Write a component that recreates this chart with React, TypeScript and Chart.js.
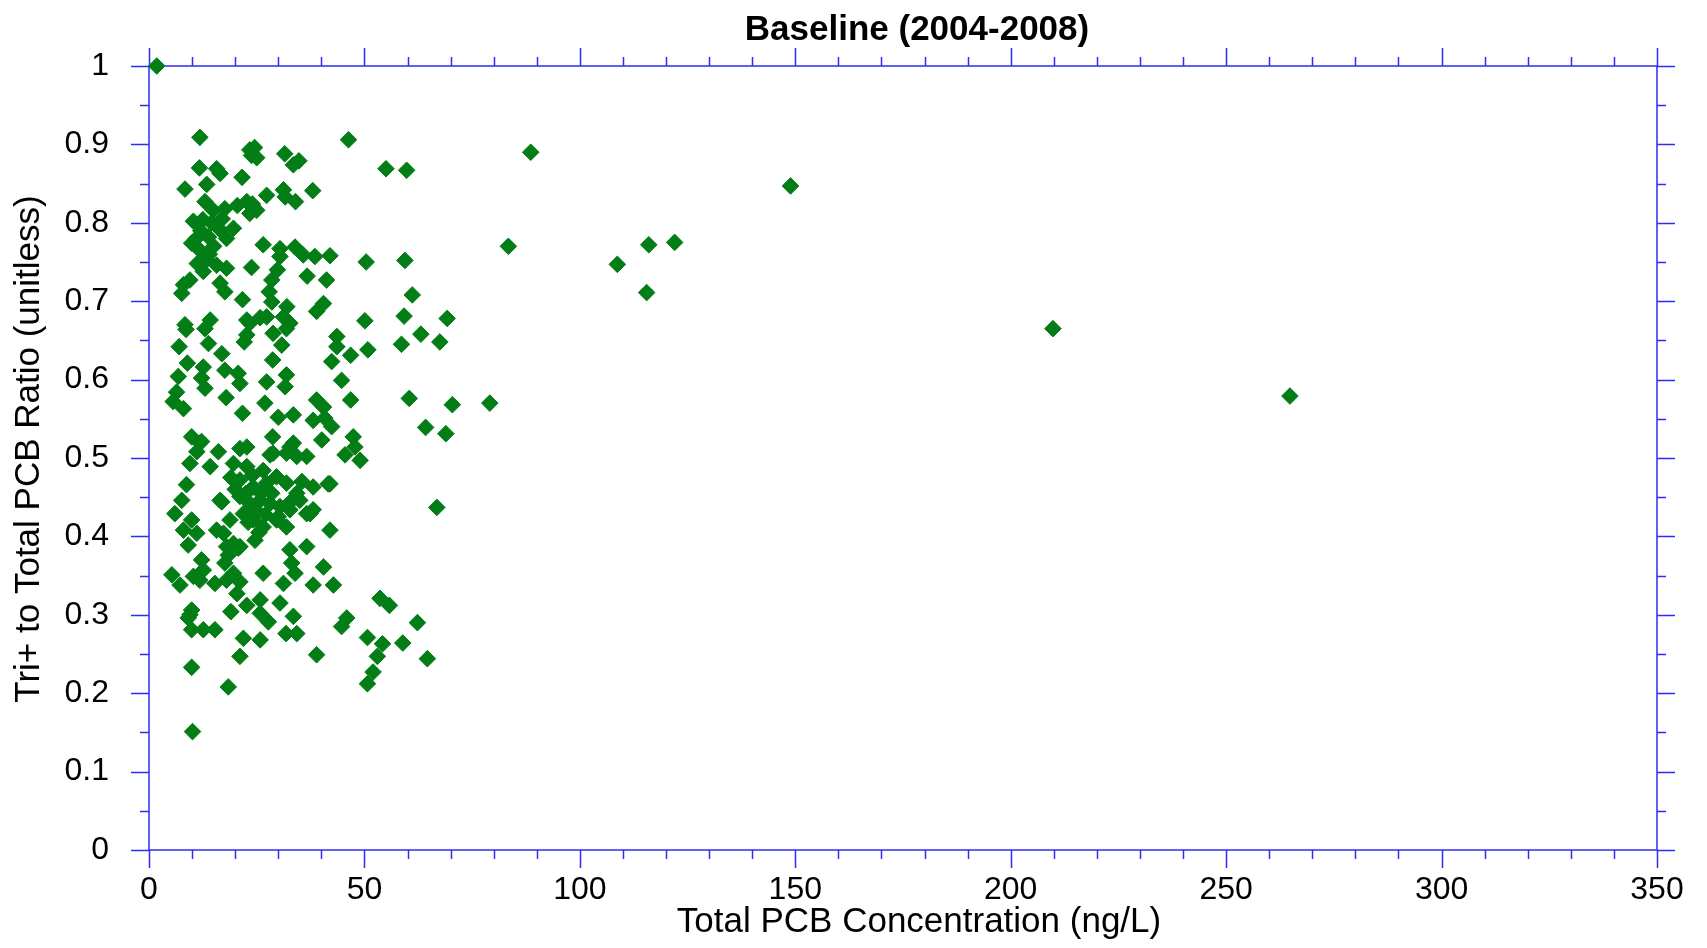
import React, { useEffect, useRef } from "react";
import { Chart, registerables } from "chart.js";

Chart.register(...registerables);

const TITLE = "Baseline (2004-2008)";
const X_TITLE = "Total PCB Concentration (ng/L)";
const Y_TITLE = "Tri+ to Total PCB Ratio (unitless)";

const X_MIN = 0;
const X_MAX = 350;
const X_MAJOR = 50;
const X_MINOR = 10;
const Y_MIN = 0;
const Y_MAX = 1;
const Y_MAJOR = 0.1;
const Y_MINOR = 0.05;

// Total PCB concentration (ng/L) for each sample
const concentration = [
  1.8, 11.8, 46.3, 88.6, 148.9, 83.4, 108.7, 116.0, 122.0, 115.5,
  209.8, 264.8, 55.0, 59.8, 50.4, 59.4, 61.1, 50.1, 59.2, 69.2,
  63.1, 67.5, 58.6, 50.8, 46.8, 46.8, 60.4, 70.4, 79.1, 64.2,
  68.9, 47.4, 45.5, 49.0, 47.8, 66.8, 53.6, 55.8, 45.9, 44.7,
  62.3, 50.7, 54.2, 58.9, 53.0, 64.6, 52.0, 50.7,
  23.8, 23.4, 25.0, 24.5, 31.5, 34.8, 33.5, 11.7, 15.7, 16.5,
  21.6, 8.35, 13.4, 27.3, 31.2, 31.6, 34.0, 38.0, 13.0, 14.9,
  17.6, 22.7, 25.0, 23.4, 10.3, 12.5, 19.6, 16.5, 13.8, 9.9,
  18.0, 26.5, 11.8, 13.4, 12.6, 18.0, 15.7, 23.8, 30.4, 30.4,
  29.8, 33.9, 35.8, 38.5, 42.0, 36.7, 41.2, 8.0, 7.6, 9.5,
  16.5, 17.6, 21.7, 28.5, 27.9, 28.5, 32.0, 40.5, 38.9, 8.35,
  14.2, 22.7, 25.8, 27.3, 31.2, 32.7,
  14.5, 12.0, 15.0, 14.0, 11.0, 17.0, 20.5, 24.0, 11.2,
  8.6, 13.0, 7.0, 13.8, 16.9, 22.1, 22.7, 23.4, 28.8, 30.8,
  31.9, 28.7, 8.9, 12.6, 12.2, 13.0, 6.8, 17.6, 20.7, 21.1,
  27.3, 31.9, 31.6, 6.4, 5.6, 8.0, 17.9, 26.9, 21.7, 30.0,
  33.5, 38.9, 40.5, 40.8, 42.4, 38.1, 43.6, 42.4, 44.7, 43.6,
  40.1, 9.9, 11.8, 9.5, 11.1, 16.1, 14.2, 22.7, 28.7, 28.1,
  33.5, 34.3, 31.9, 36.6, 38.1, 42.0, 8.7, 7.6, 6.0, 9.9,
  8.0, 11.1, 16.9, 15.7, 36.6, 38.1, 42.0,
  12.2, 21.1, 19.6, 22.7, 21.1, 24.2, 27.3, 28.8, 32.7, 29.6,
  31.9, 34.3, 35.0, 41.6, 37.4, 16.5, 21.1, 23.4, 25.8, 28.1,
  30.4, 32.7, 18.8, 21.9, 24.2, 26.5, 29.6, 31.9, 24.6, 21.1,
  17.3, 18.0, 32.7, 36.6, 40.5, 19.6, 18.0, 42.8, 9.5,
  20.0, 22.5, 25.0, 27.0, 23.0, 26.0, 28.5, 30.0, 24.0, 26.5,
  19.0, 33.0, 35.5, 25.5,
  9.1, 12.2, 12.6, 5.3, 7.2, 10.3, 11.8, 15.3, 18.4, 17.6,
  19.6, 20.7, 21.1, 20.4, 26.5, 31.2, 33.1, 33.9, 38.1,
  9.9, 9.1, 9.9, 12.6, 15.3, 19.0, 22.7, 25.8, 25.8, 27.7,
  30.4, 33.5, 34.3, 21.9, 25.8, 21.1, 38.9, 9.9, 18.4, 10.1,
  31.8,
];

// Tri+ to total PCB ratio (unitless) for each sample
const ratio = [
  1.0, 0.909, 0.906, 0.890, 0.847, 0.770, 0.747, 0.772, 0.775, 0.711,
  0.665, 0.579, 0.869, 0.867, 0.750, 0.752, 0.708, 0.675, 0.681, 0.678,
  0.658, 0.648, 0.645, 0.638, 0.631, 0.574, 0.576, 0.568, 0.570, 0.539,
  0.531, 0.527, 0.504, 0.497, 0.514, 0.437, 0.321, 0.312, 0.296, 0.285,
  0.290, 0.271, 0.263, 0.264, 0.247, 0.244, 0.227, 0.212,
  0.886, 0.893, 0.883, 0.896, 0.888, 0.879, 0.874, 0.870, 0.869, 0.863,
  0.858, 0.843, 0.849, 0.835, 0.842, 0.833, 0.827, 0.841, 0.827, 0.816,
  0.818, 0.827, 0.816, 0.812, 0.802, 0.804, 0.793, 0.791, 0.782, 0.774,
  0.780, 0.772, 0.765, 0.753, 0.738, 0.742, 0.746, 0.743, 0.767, 0.757,
  0.740, 0.769, 0.759, 0.757, 0.758, 0.732, 0.727, 0.721, 0.710, 0.727,
  0.723, 0.712, 0.702, 0.727, 0.712, 0.699, 0.693, 0.697, 0.687, 0.670,
  0.676, 0.676, 0.679, 0.680, 0.680, 0.672,
  0.800, 0.790, 0.770, 0.760, 0.780, 0.805, 0.822, 0.824, 0.748,
  0.664, 0.665, 0.642, 0.646, 0.633, 0.648, 0.657, 0.672, 0.659, 0.644,
  0.665, 0.625, 0.621, 0.616, 0.602, 0.589, 0.604, 0.612, 0.608, 0.595,
  0.597, 0.606, 0.591, 0.584, 0.572, 0.563, 0.577, 0.570, 0.557, 0.552,
  0.555, 0.574, 0.565, 0.551, 0.540, 0.548, 0.655, 0.623, 0.599, 0.642,
  0.523, 0.527, 0.519, 0.493, 0.508, 0.508, 0.489, 0.514, 0.527, 0.504,
  0.519, 0.502, 0.506, 0.502, 0.463, 0.467, 0.466, 0.446, 0.429, 0.421,
  0.408, 0.404, 0.444, 0.408, 0.429, 0.434, 0.408,
  0.521, 0.512, 0.493, 0.489, 0.472, 0.463, 0.468, 0.506, 0.514, 0.476,
  0.468, 0.455, 0.446, 0.467, 0.429, 0.446, 0.451, 0.442, 0.446, 0.442,
  0.438, 0.434, 0.421, 0.429, 0.421, 0.412, 0.421, 0.412, 0.395, 0.387,
  0.404, 0.387, 0.383, 0.387, 0.361, 0.353, 0.344, 0.338, 0.300,
  0.460, 0.455, 0.432, 0.428, 0.418, 0.455, 0.455, 0.425, 0.478, 0.484,
  0.475, 0.445, 0.470, 0.405,
  0.389, 0.370, 0.357, 0.351, 0.338, 0.349, 0.344, 0.340, 0.376, 0.366,
  0.391, 0.385, 0.342, 0.327, 0.353, 0.340, 0.366, 0.353, 0.338,
  0.306, 0.296, 0.281, 0.281, 0.281, 0.304, 0.312, 0.319, 0.302, 0.291,
  0.315, 0.298, 0.276, 0.270, 0.268, 0.247, 0.249, 0.233, 0.208, 0.151,
  0.276,
];

const FONT_FAMILY = "'Liberation Sans', Arial, Helvetica, sans-serif";
const AXIS_COLOR = "rgb(45, 45, 245)";
const MARKER_COLOR = "rgb(3, 125, 21)";

const frameTicks = {
  id: "frameTicks",
  beforeDatasetsDraw(chart: any) {
    const { ctx, chartArea } = chart;
    const { left, right, top, bottom } = chartArea;
    const xs = chart.scales.x;
    const ys = chart.scales.y;
    ctx.save();
    ctx.strokeStyle = AXIS_COLOR;
    ctx.lineWidth = 1.5;
    ctx.beginPath();
    ctx.rect(left, top, right - left, bottom - top);
    ctx.stroke();
    ctx.beginPath();
    const nx = Math.round((X_MAX - X_MIN) / X_MINOR);
    for (let i = 0; i <= nx; i++) {
      const v = X_MIN + i * X_MINOR;
      const major = Math.abs(v / X_MAJOR - Math.round(v / X_MAJOR)) < 1e-6;
      const len = major ? 18 : 9;
      const px = Math.round(xs.getPixelForValue(v)) + 0.5;
      ctx.moveTo(px, bottom);
      ctx.lineTo(px, bottom + len);
      ctx.moveTo(px, top);
      ctx.lineTo(px, top - len);
    }
    const ny = Math.round((Y_MAX - Y_MIN) / Y_MINOR);
    for (let i = 0; i <= ny; i++) {
      const v = Y_MIN + i * Y_MINOR;
      const major = i % Math.round(Y_MAJOR / Y_MINOR) === 0;
      const len = major ? 18 : 9;
      const py = Math.round(ys.getPixelForValue(v)) + 0.5;
      ctx.moveTo(left, py);
      ctx.lineTo(left - len, py);
      ctx.moveTo(right, py);
      ctx.lineTo(right + len, py);
    }
    ctx.stroke();
    ctx.restore();
  },
};

// Chart title and axis titles, placed relative to the chart area
const titles = {
  id: "titles",
  afterDraw(chart: any) {
    const { ctx, chartArea } = chart;
    const { left, right, top, bottom } = chartArea;
    const cx = (left + right) / 2 + 14;
    ctx.save();
    ctx.fillStyle = "#000";
    ctx.textAlign = "center";
    ctx.textBaseline = "middle";
    ctx.font = `bold 35px ${FONT_FAMILY}`;
    ctx.fillText(TITLE, cx, top - 36);
    ctx.font = `35px ${FONT_FAMILY}`;
    ctx.fillText(X_TITLE, cx + 2, bottom + 72);
    ctx.translate(29, (top + bottom) / 2 - 9);
    ctx.rotate(-Math.PI / 2);
    ctx.fillText(Y_TITLE, 0, 0);
    ctx.restore();
  },
};

export default function App() {
  const canvasRef = useRef<HTMLCanvasElement | null>(null);

  useEffect(() => {
    document.body.style.margin = "0";
    document.body.style.overflow = "hidden";
    const canvas = canvasRef.current;
    if (!canvas) return;
    const points = concentration.map((c, i) => ({ x: c, y: ratio[i] }));
    const chart = new Chart(canvas, {
      type: "scatter",
      data: {
        datasets: [
          {
            label: "Baseline",
            data: points,
            pointStyle: "rectRot",
            pointRadius: 8.3,
            pointHoverRadius: 8.3,
            backgroundColor: MARKER_COLOR,
            borderColor: MARKER_COLOR,
            borderWidth: 1,
            clip: false,
          } as any,
        ],
      },
      options: {
        animation: false,
        responsive: true,
        maintainAspectRatio: false,
        events: [],
        layout: { padding: { left: 0, right: 50, top: 66, bottom: 0 } },
        plugins: {
          legend: { display: false },
          tooltip: { enabled: false },
          title: { display: false },
        },
        scales: {
          x: {
            type: "linear",
            position: "bottom",
            min: X_MIN,
            max: X_MAX,
            grid: { display: false },
            border: { display: false },
            ticks: {
              stepSize: X_MAJOR,
              color: "#000",
              padding: 13,
              maxRotation: 0,
              font: { family: FONT_FAMILY, size: 32 },
            },
            afterFit: (scale: any) => {
              scale.height = 98;
            },
          },
          y: {
            type: "linear",
            position: "left",
            min: Y_MIN,
            max: Y_MAX,
            grid: { display: false },
            border: { display: false },
            ticks: {
              stepSize: Y_MAJOR,
              color: "#000",
              padding: 32,
              font: { family: FONT_FAMILY, size: 32 },
              callback: (v: any) => String(Number(Number(v).toFixed(1))),
            },
            afterFit: (scale: any) => {
              scale.width = 149;
            },
          },
        },
      },
      plugins: [frameTicks, titles],
    });
    return () => chart.destroy();
  }, []);

  return (
    <div style={{ position: "absolute", left: 0, top: 0, width: 1707, height: 948 }}>
      <canvas ref={canvasRef} />
    </div>
  );
}
